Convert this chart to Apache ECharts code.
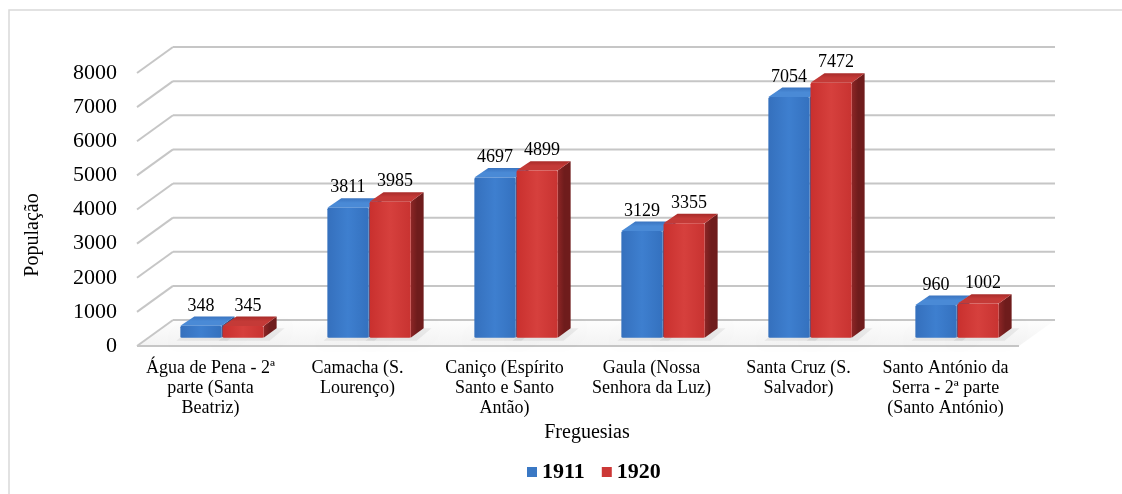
<!DOCTYPE html>
<html>
<head>
<meta charset="utf-8">
<script src="https://cdn.jsdelivr.net/npm/echarts@6/dist/echarts.min.js"></script>
<style>
html, body { margin: 0; padding: 0; background: #fff; }
#main { width: 1122px; height: 494px; }
</style>
</head>
<body>
<div id="main"></div>
<script>
var freguesias = [
	'Água de Pena - 2ª\nparte (Santa\nBeatriz)',
	'Camacha (S.\nLourenço)',
	'Caniço (Espírito\nSanto e Santo\nAntão)',
	'Gaula (Nossa\nSenhora da Luz)',
	'Santa Cruz (S.\nSalvador)',
	'Santo António da\nSerra - 2ª parte\n(Santo António)'
];
var pop1911 = [348, 3811, 4697, 3129, 7054, 960];
var pop1920 = [345, 3985, 4899, 3355, 7472, 1002];
var yTicks = [0, 1000, 2000, 3000, 4000, 5000, 6000, 7000, 8000];

var FONT = '"Times New Roman", "Liberation Serif", serif';
// depth of the 3d box (front plane -> back wall)
var DX = 36, DY = -26;

function grad(c1, c2, c3, horiz) {
	return new echarts.graphic.LinearGradient(0, 0, horiz ? 1 : 0, horiz ? 0 : 1, [
		{ offset: 0, color: c1 }, { offset: 0.5, color: c2 }, { offset: 1, color: c3 }
	]);
}

// draws one 3d bar, side = -1 (left one) or 1 (right one)
function makeBar(side, col, labelShift) {
	return function (params, api) {
		var cat = api.value(0), val = api.value(1);
		var base = api.coord([cat, 0]);
		var top = api.coord([cat, val]);
		var w = api.size([1, 0])[0] * 0.28;
		var fx = DX * 0.32, fy = DY * 0.32;
		var dx = DX * 0.36, dy = DY * 0.36;
		var x0 = base[0] + fx + (side < 0 ? -w - 0.5 : 0.5);
		var yB = base[1] + fy, yT = top[1] + fy;
		return {
			type: 'group',
			children: [{
				// soft shadow on the floor
				type: 'polygon',
				shape: { points: [[x0 - 4, yB + 3], [x0 + w + 6, yB + 3], [x0 + w + dx + 8, yB + dy], [x0 + dx - 2, yB + dy]] },
				style: { fill: 'rgba(0,0,0,0.06)', shadowColor: 'rgba(0,0,0,0.18)', shadowBlur: 10 }
			}, {
				type: 'polygon',
				shape: { points: [[x0 + w, yT], [x0 + w + dx, yT + dy], [x0 + w + dx, yB + dy], [x0 + w, yB]] },
				style: { fill: grad(col.side1, col.side2, col.side2, true) }
			}, {
				type: 'polygon',
				shape: { points: [[x0, yT], [x0 + w, yT], [x0 + w + dx, yT + dy], [x0 + dx + 1, yT + dy]] },
				style: { fill: grad(col.top2, col.top1, col.top1, false) }
			}, {
				type: 'rect',
				shape: { x: x0, y: yT, width: w, height: yB - yT, r: 1.5 },
				style: { fill: grad(col.f1, col.f2, col.f3, true) }
			}, {
				type: 'text',
				x: x0 + w / 2 + labelShift,
				y: yT - 20,
				style: {
					text: String(val), fontFamily: FONT, fontSize: 18, fill: '#000',
					align: 'center', verticalAlign: 'middle'
				}
			}]
		};
	};
}

var blue = { f1: '#3570bd', f2: '#3e7fcf', f3: '#3471bf', top1: '#4a8ad6', top2: '#3a74c0', side1: '#2b5e9f', side2: '#234d86' };
var red = { f1: '#c9302e', f2: '#d6403d', f3: '#c83331', top1: '#c43a37', top2: '#a82b29', side1: '#8e2626', side2: '#6f1c1c' };

function renderGrid(params, api) {
	var cs = params.coordSys;
	var v = api.value(0);
	var y = api.coord([0, v])[1];
	var x = cs.x;
	var lineStyle = { stroke: '#c6c6c6', lineWidth: 2 };
	var ch = [{
		type: 'line',
		shape: { x1: x, y1: y, x2: x + DX, y2: y + DY },
		style: lineStyle
	}, {
		type: 'line',
		shape: { x1: x + DX, y1: y + DY, x2: x + cs.width + DX, y2: y + DY },
		style: lineStyle
	}];
	if (v === 0) {
		ch.unshift({
			type: 'polygon',
			shape: { points: [[x, y], [x + cs.width, y], [x + cs.width + DX, y + DY], [x + DX, y + DY]] },
			style: { fill: new echarts.graphic.LinearGradient(0, 0, 0, 1, [
				{ offset: 0, color: '#fdfdfd' }, { offset: 1, color: '#f3f3f3' }
			]) }
		});
		ch.push({
			type: 'line',
			shape: { x1: x, y1: y, x2: x + cs.width, y2: y },
			style: lineStyle
		});
	}
	return { type: 'group', children: ch };
}

var myChart = echarts.init(document.getElementById('main'));

var option = {
	backgroundColor: '#fff',
	animation: false,
	grid: { left: 137, right: 103, top: 73, bottom: 148 },
	legend: {
		left: 522,
		top: 456,
		itemWidth: 10,
		itemHeight: 10,
		itemGap: 17,
		icon: 'rect',
		textStyle: { fontFamily: FONT, fontSize: 22, fontWeight: 'bold', color: '#000' },
		data: ['1911', '1920']
	},
	graphic: [{
		type: 'rect',
		shape: { x: 9, y: 10, width: 1300, height: 600 },
		style: { fill: null, stroke: '#d9d9d9', lineWidth: 1.5 },
		silent: true
	}, {
		type: 'text',
		x: 33, y: 235,
		rotation: Math.PI / 2,
		style: { text: 'População', fontFamily: FONT, fontSize: 20, fill: '#000', align: 'center', verticalAlign: 'middle' }
	}, {
		type: 'text',
		x: 587, y: 433,
		style: { text: 'Freguesias', fontFamily: FONT, fontSize: 20, fill: '#000', align: 'center', verticalAlign: 'middle' }
	}],
	xAxis: {
		type: 'category',
		data: freguesias,
		axisLine: { show: false },
		axisTick: { show: false },
		axisLabel: {
			interval: 0,
			margin: 12,
			fontFamily: FONT,
			fontSize: 18,
			lineHeight: 20,
			color: '#000'
		}
	},
	yAxis: {
		type: 'value',
		min: 0,
		max: 8000,
		interval: 1000,
		axisLine: { show: false },
		axisTick: { show: false },
		splitLine: { show: false },
		axisLabel: {
			margin: 20, fontFamily: FONT, fontSize: 22, color: '#000',
			formatter: function (v) { return String(v); }
		}
	},
	series: [{
		name: 'grid3d',
		type: 'custom',
		renderItem: renderGrid,
		data: yTicks.map(function (t) { return [t]; }),
		encode: { y: 0 },
		silent: true,
		z: 1
	}, {
		name: '1911',
		type: 'custom',
		renderItem: makeBar(-1, blue, 0),
		itemStyle: { color: '#3a78c4' },
		data: pop1911.map(function (v, i) { return [i, v]; }),
		encode: { x: 0, y: 1 },
		z: 3
	}, {
		name: '1920',
		type: 'custom',
		renderItem: makeBar(1, red, 5),
		itemStyle: { color: '#cc3836' },
		data: pop1920.map(function (v, i) { return [i, v]; }),
		encode: { x: 0, y: 1 },
		z: 4
	}]
};

myChart.setOption(option);
</script>
</body>
</html>
